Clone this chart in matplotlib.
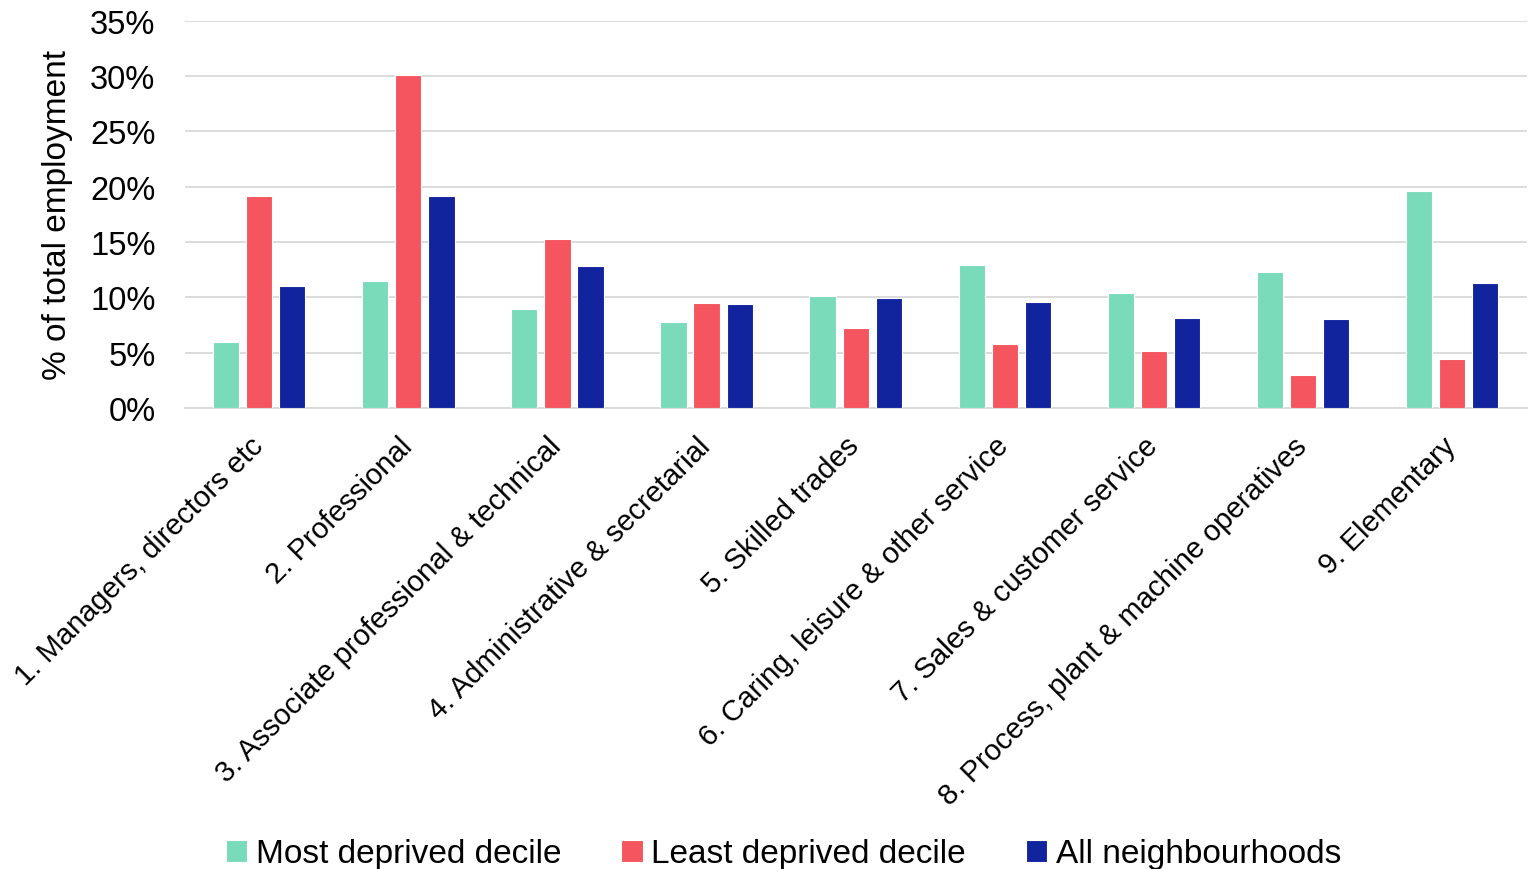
import numpy as np
import matplotlib.pyplot as plt

plt.rcParams['font.family'] = ['Liberation Sans', 'DejaVu Sans']

# Occupation groups and share of employment (%)
categories = ['1. Managers, directors etc', '2. Professional',
              '3. Associate professional & technical', '4. Administrative & secretarial',
              '5. Skilled trades', '6. Caring, leisure & other service',
              '7. Sales & customer service', '8. Process, plant & machine operatives',
              '9. Elementary']
most_deprived = [6.0, 11.5, 8.9, 7.8, 10.1, 12.9, 10.4, 12.3, 19.6]
least_deprived = [19.2, 30.1, 15.3, 9.5, 7.2, 5.8, 5.1, 3.0, 4.4]
all_neighbourhoods = [11.0, 19.2, 12.8, 9.4, 9.9, 9.6, 8.1, 8.0, 11.3]
series_names = ['Most deprived decile', 'Least deprived decile', 'All neighbourhoods']

colours = ['#79dbba', '#f5555f', '#12239e']

fig = plt.figure(figsize=(15.39, 8.7), dpi=100)
ax = fig.add_axes([0.120, 0.530, 0.872, 0.445])

x = np.arange(len(categories))
w = 0.176
step = 0.222
for i, (vals, name) in enumerate(zip([most_deprived, least_deprived, all_neighbourhoods], series_names)):
    ax.bar(x + (i - 1) * step, vals, w, color=colours[i], label=name,
           edgecolor='white', linewidth=0.8, zorder=3)

ax.set_xlim(-0.5, len(categories) - 0.5)
ax.set_ylim(0, 35)
ax.set_yticks(np.arange(0, 36, 5))
ax.set_yticklabels([f'{v}%' for v in range(0, 36, 5)], fontsize=23.5)
ax.yaxis.grid(True, color='#d9d9d9', linewidth=1.3, zorder=0)
ax.tick_params(axis='y', length=0, pad=21)
ax.tick_params(axis='x', length=0, pad=17)
ax.set_xticks(x - 0.07)
ax.set_xticklabels(categories, rotation=45, ha='right', rotation_mode='anchor', fontsize=21.1)
ax.set_ylabel('% of total employment', fontsize=24, labelpad=12)

for s in ['top', 'right', 'left']:
    ax.spines[s].set_visible(False)
ax.spines['bottom'].set_color('#d9d9d9')
ax.spines['bottom'].set_linewidth(1.3)

fig.legend(loc='lower center', bbox_to_anchor=(0.509, -0.035), ncol=3, frameon=False,
           fontsize=24, handlelength=0.65, handleheight=0.65, handletextpad=0.25,
           columnspacing=1.8)

plt.savefig('out.png', dpi=100)
